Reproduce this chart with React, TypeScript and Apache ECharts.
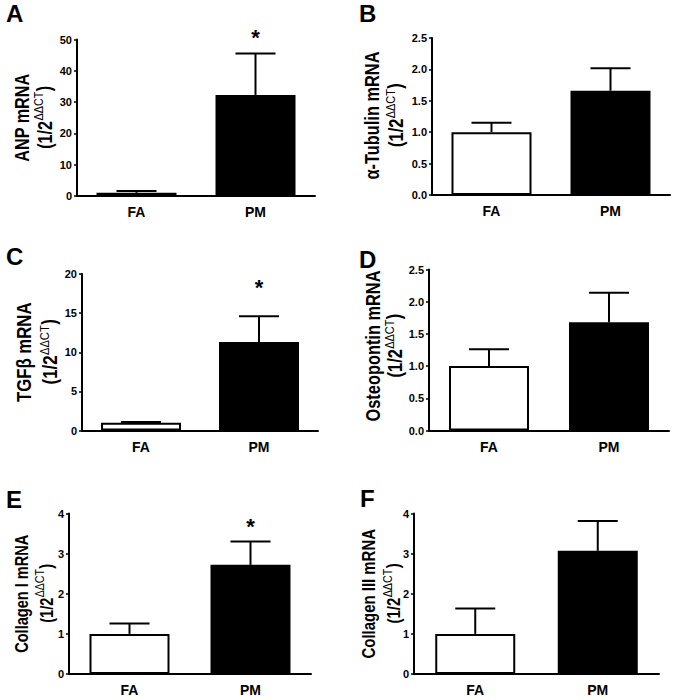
import React, { useEffect, useRef } from "react";
import * as echarts from "echarts";

// ---- data ----
const categories = ["FA", "PM"];
const panelLetters = ["A", "B", "C", "D", "E", "F"];
const titles = [
  "ANP mRNA",
  "α-Tubulin mRNA",
  "TGFβ mRNA",
  "Osteopontin mRNA",
  "Collagen I mRNA",
  "Collagen III mRNA",
];
const unitMain = "(1/2";
const unitSup = "ΔΔCT";
const unitClose = ")";
const anpMean = [1.0, 32.3];
const anpUpper = [1.6, 45.5];
const tubulinMean = [1.0, 1.66];
const tubulinUpper = [1.15, 2.02];
const tgfMean = [1.0, 11.3];
const tgfUpper = [1.1, 14.6];
const osteoMean = [1.0, 1.68];
const osteoUpper = [1.26, 2.14];
const col1Mean = [1.0, 2.72];
const col1Upper = [1.26, 3.3];
const col3Mean = [1.0, 3.07];
const col3Upper = [1.63, 3.81];
const yMax = [50, 2.5, 20, 2.5, 4, 4];
const yInterval = [10, 0.5, 5, 0.5, 1, 1];
const starValue: (number | null)[] = [50.5, null, 18.3, null, 3.67, null];

const means = [anpMean, tubulinMean, tgfMean, osteoMean, col1Mean, col3Mean];
const uppers = [anpUpper, tubulinUpper, tgfUpper, osteoUpper, col1Upper, col3Upper];

// ---- layout (px) ----
const grids = [
  { left: 77, top: 39.5, width: 238, height: 156.5 },
  { left: 432, top: 38, width: 238, height: 157 },
  { left: 82, top: 274, width: 236, height: 156.5 },
  { left: 429, top: 269.5, width: 240, height: 161 },
  { left: 69, top: 513.5, width: 242, height: 160.5 },
  { left: 414, top: 513.5, width: 245, height: 160.5 },
];
// offsets of the two title lines' centres from the y-axis line, and vertical shift
const titleOffsets = [
  [-55, -32, 0],
  [-59, -35, -1],
  [-57, -31, 0],
  [-55, -33, -4],
  [-48, -23, 0],
  [-45, -20, 0],
];
const titleSizes = [19.5, 19.5, 19.5, 19.5, 18, 18];
const titleScale = [0.83, 0.84, 0.86, 0.84, 0.81, 0.83];
const letterPos = [
  [6, 25],
  [359, 25],
  [6, 268],
  [359, 271],
  [6, 511],
  [360, 510],
];

const FONT = "Liberation Sans, Arial, sans-serif";

function measure(text: string, font: string): number {
  const c = document.createElement("canvas").getContext("2d");
  if (!c) return text.length * 8;
  c.font = font;
  return c.measureText(text).width;
}

export default function App() {
  const ref = useRef<HTMLDivElement>(null);
  useEffect(() => {
    document.body.style.margin = "0";
    if (!ref.current) return;
    const chart = echarts.init(ref.current, undefined, { renderer: "svg" });

    const xAxis: any[] = [];
    const yAxis: any[] = [];
    const series: any[] = [];
    const graphic: any[] = [];
    grids.forEach((g, i) => {
      const decimals = yInterval[i] < 1 ? 1 : 0;
      xAxis.push({
        type: "category",
        gridIndex: i,
        data: categories,
        axisLine: { lineStyle: { color: "#000", width: 2 } },
        axisTick: { show: false },
        axisLabel: {
          color: "#000",
          fontFamily: FONT,
          fontWeight: "bold",
          fontSize: 14,
          margin: 9,
        },
      });
      yAxis.push({
        type: "value",
        gridIndex: i,
        min: 0,
        max: yMax[i],
        interval: yInterval[i],
        splitLine: { show: false },
        axisLine: { show: true, lineStyle: { color: "#000", width: 2 } },
        axisTick: { show: true, length: 3, lineStyle: { color: "#000", width: 1.5 } },
        axisLabel: {
          color: "#000",
          fontFamily: FONT,
          fontWeight: "bold",
          fontSize: 11,
          margin: 5,
          formatter: (v: number) => v.toFixed(decimals),
        },
      });
      series.push({
        type: "bar",
        xAxisIndex: i,
        yAxisIndex: i,
        barWidth: 80,
        z: 2,
        data: means[i].map((v, k) => ({
          value: v,
          itemStyle: {
            color: k === 0 ? "#fff" : "#000",
            borderColor: "#000",
            borderWidth: 2,
          },
        })),
      });
      series.push({
        type: "custom",
        xAxisIndex: i,
        yAxisIndex: i,
        z: 3,
        data: means[i].map((v, k) => [k, v, uppers[i][k], k === 1 && starValue[i] != null ? starValue[i] : -1]),
        renderItem: (params: any, api: any) => {
          const x = api.value(0);
          const m = api.value(1);
          const u = api.value(2);
          const s = api.value(3);
          const p0 = api.coord([x, m]);
          const p1 = api.coord([x, u]);
          const half = 20;
          const children: any[] = [
            {
              type: "line",
              shape: { x1: p0[0], y1: p0[1], x2: p1[0], y2: p1[1] },
              style: { stroke: "#000", lineWidth: 2 },
            },
            {
              type: "line",
              shape: { x1: p1[0] - half, y1: p1[1], x2: p1[0] + half, y2: p1[1] },
              style: { stroke: "#000", lineWidth: 2 },
            },
          ];
          if (s >= 0) {
            const ps = api.coord([x, s]);
            children.push({
              type: "text",
              style: {
                text: "*",
                x: ps[0],
                y: ps[1],
                textAlign: "center",
                textVerticalAlign: "middle",
                font: `bold 22px ${FONT}`,
                fill: "#000",
              },
            });
          }
          return { type: "group", children };
        },
      });

      // y-axis title (two rotated, slightly condensed lines with superscript)
      const fs = titleSizes[i];
      const sc = titleScale[i];
      const mainFont = `bold ${fs}px ${FONT}`;
      const supFont = `normal 13px ${FONT}`;
      const cy = g.top + g.height / 2 + titleOffsets[i][2];
      graphic.push({
        type: "text",
        x: g.left + titleOffsets[i][0],
        y: cy,
        rotation: Math.PI / 2,
        scaleX: sc,
        style: {
          text: titles[i],
          font: mainFont,
          fill: "#000",
          textAlign: "center",
          textVerticalAlign: "middle",
        },
      });
      const w1 = measure(unitMain, mainFont);
      const w2 = measure(unitSup, supFont);
      const w3 = measure(unitClose, mainFont);
      const W = w1 + w2 + w3;
      graphic.push({
        type: "group",
        x: g.left + titleOffsets[i][1],
        y: cy,
        rotation: Math.PI / 2,
        scaleX: sc,
        children: [
          {
            type: "text",
            x: -W / 2,
            y: 0,
            style: { text: unitMain, font: mainFont, fill: "#000", textAlign: "left", textVerticalAlign: "middle" },
          },
          {
            type: "text",
            x: -W / 2 + w1 + 0.5,
            y: -6,
            style: { text: unitSup, font: supFont, fill: "#000", textAlign: "left", textVerticalAlign: "middle" },
          },
          {
            type: "text",
            x: -W / 2 + w1 + w2 + 1,
            y: -1,
            style: { text: unitClose, font: mainFont, fill: "#000", textAlign: "left", textVerticalAlign: "middle" },
          },
        ],
      });
      graphic.push({
        type: "text",
        x: letterPos[i][0],
        y: letterPos[i][1],
        style: {
          text: panelLetters[i],
          font: `bold 24px ${FONT}`,
          fill: "#000",
          textVerticalAlign: "bottom",
        },
      });
    });

    chart.setOption({
      animation: false,
      backgroundColor: "#fff",
      grid: grids.map((g) => ({ ...g, containLabel: false })),
      xAxis,
      yAxis,
      series,
      graphic,
    });
    return () => chart.dispose();
  }, []);
  return <div ref={ref} style={{ width: 676, height: 700 }} />;
}
